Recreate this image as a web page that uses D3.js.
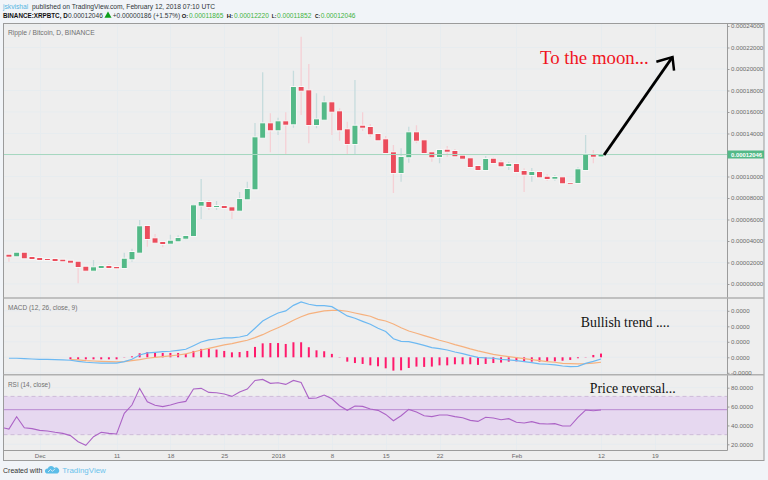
<!DOCTYPE html>
<html><head><meta charset="utf-8">
<script src="https://cdn.jsdelivr.net/npm/d3@7"></script>
<style>
html,body{margin:0;padding:0;background:#f1f4f8;overflow:hidden}
svg{display:block}
text{font-family:"Liberation Sans",Arial,sans-serif}
</style></head><body>
<svg id="c" width="768" height="480"></svg>
<script>
// ---- data ----
const firstDay = Date.UTC(2017,10,27);
const opens  = [2725,2577,2912,2512,2419,2326,2326,2260,2167,2074,1609,1237,1488,1674,1581,1488,2298,2912,5395,4251,3907,3749,3972,4214,4465,7284,7628,7163,7256,7135,6818,7879,8809,13609,14948,14297,15134,14855,18325,18018,14790,15283,16902,16065,14390,13023,14725,14604,13953,13460,12251,10325,11786,14111,13367,12251,11814,12493,12372,11935,11693,10976,10604,11656,11321,10976,11162,10511,10139,10418,9981,9795,9925,9395,9395,10604,12065,11865];
const closes = [2540,2912,2391,2326,2233,2233,2140,2112,1981,1581,1237,1553,1674,1488,1460,2353,2977,5367,4186,3842,3721,4028,4279,4465,7321,7628,7163,7256,7070,6818,7907,8837,13646,14948,14297,15134,14818,18325,17981,14790,15320,16902,16027,14297,13023,14725,14539,13925,13367,12186,10325,11814,14111,13330,12186,11786,12465,12307,11879,11656,10883,10604,11628,11255,10948,11162,10418,10167,10418,9925,9767,9953,9367,9330,10670,12065,11842,12046];
const highs  = [2790,2977,2950,2560,2450,2350,2360,2290,2200,2100,1640,2232,1795,1833,1610,2912,3284,5953,5420,4651,3940,4586,4530,4500,7442,9767,7814,7721,7300,7170,8558,9516,14976,19693,15878,15470,15971,19841,23004,20464,17739,17516,16940,16344,15097,18976,15971,14883,14000,13767,12930,12623,14632,14763,13400,12290,12500,12837,12558,11970,11730,11010,11907,11786,11535,11377,11200,10762,10790,10450,10204,10139,9960,9488,10856,13860,12465,12220];
const lows   = [2074,2512,2350,2280,2200,2210,2110,2090,1950,65,1200,1200,1460,1460,1430,1460,2074,2880,3470,3800,3414,3720,3940,4093,4430,6046,6883,6883,7030,6046,6780,7840,8770,13570,12251,13860,12065,14539,15720,13088,14483,15250,13860,13330,12000,12000,14232,13702,13330,12150,8465,9516,11283,13088,12150,11377,11228,11842,11840,11620,10762,10570,10570,11220,10910,10604,10380,8558,9516,9890,9609,9609,9330,9300,9360,10539,11228,11852];
const lastClose = 12046;
const macdLine = [-0.6,-0.6,-0.8,-1.1,-1.3,-1.4,-1.5,-1.7,-1.9,-2.6,-3.2,-3.5,-3.7,-3.7,-3.7,-2.8,-1.3,1.5,2.8,3.2,3.7,3.9,4.5,5.2,7.5,9.9,11.2,11.8,12.5,12.5,13.1,14.2,18.7,23.4,26.2,28.6,29.9,33.5,35.7,34.2,33.3,33.3,32.7,29.7,26.7,25.2,23.2,21.3,18.7,16.6,12,10.3,10.1,9,7.7,6.2,5.6,4.7,3.4,2.4,1.1,0,-0.4,-0.6,-1.3,-1.7,-2.2,-2.8,-3.4,-4.3,-4.5,-4.9,-5.6,-6,-5.8,-3.9,-2.6,-1.1];
const signalOffset = 8;
const signalLine = [-1.5,-1.7,-2.2,-2.4,-2.6,-2.8,-3,-2.8,-2.2,-1.5,-0.6,0,0.4,0.9,1.5,2.2,3.4,4.7,5.8,6.9,8,8.8,9.9,11,12.7,14.6,17,19.1,21.3,23.9,26.2,28,29,29.9,30.3,30.3,29.7,28.6,27.5,26.5,24.5,23.4,21.5,19.1,17,15.5,14,12.5,11,9.7,8.2,6.9,5.4,4.1,3,1.9,1.1,0.4,-0.2,-0.9,-1.5,-2.2,-2.8,-3.2,-3.9,-4.1,-4.3,-4.1,-3.7,-3.2];
const histValues = [-1.3,-1.3,-1.3,-1.3,-1.3,-1.3,-1.3,-0.2,0.6,2.6,3.4,3,2.8,2.8,2.8,2.2,4.1,5.4,5.6,5,4.1,3.2,3.4,4.1,6.7,9,9.2,9.2,8.6,9.7,9.7,6.5,4.5,3.9,2.2,0.2,-2.8,-3.7,-4.3,-5.2,-5.8,-7.1,-8.6,-8.4,-6.9,-6,-6.2,-6,-5.2,-5.2,-4.5,-4.5,-4.5,-4.9,-4.3,-3.7,-3.4,-2.8,-2.6,-2.8,-2.8,-2.8,-2.6,-2.6,-2.2,-1.7,-0.6,0.2,1.5,2.4];
const rsiOffset = -1;
const rsiValues = [38,36.2,49.3,37.6,36.6,34.8,34.1,32.7,31.6,29.2,22.8,18.9,28.1,32.7,31.6,30.9,52.8,61.6,79.3,65.1,61.3,59.9,61.6,64.1,65.5,78.6,79.3,75,74.7,73.3,70.8,75.4,78.6,87.7,88.8,84.6,85.3,83.5,87.7,85.6,68.7,69,72.2,68.3,60.9,56,60.6,60.2,57.4,56,51.7,45,50.3,57,54.2,50.3,49.3,51,51,49.3,48.2,45.4,44.3,48.6,47.9,46.1,47.2,43.3,42.6,44,41.9,41.5,41.9,39.4,39.4,48.6,56.3,55.6,56.3];
const timeTicks = [[2017,11,1,"Dec"],[2017,11,11,"11"],[2017,11,18,"18"],[2017,11,25,"25"],[2018,0,1,"2018"],[2018,0,8,"8"],[2018,0,15,"15"],[2018,0,22,"22"],[2018,1,1,"Feb"],[2018,1,12,"12"],[2018,1,19,"19"]];
const priceTicks = [0,2000,4000,6000,8000,10000,14000,16000,18000,20000,22000,24000];
const macdTicks = [-10,0,10,20,30];
const rsiTicks = [20,40,60,80];
const arrowDays = [77.4,86.3], arrowPrices = [12000,21116];
const arrowHeadDays = [84.2,86.3,86.5], arrowHeadPrices = [20679,21116,19841];

// ---- layout ----
const L=3.5,R=764,AX=727.5,TOP=23.5,BOT=460.5,TAXIS=450.5;
const DAY=86400000;
const dayDate=i=>new Date(firstDay+i*DAY);
const x=d3.scaleUtc().domain([dayDate(0),dayDate(77)]).range([8.94,601]);
const y=d3.scaleLinear().domain([0,24000]).range([284,26]);
const ym=d3.scaleLinear().domain([-10,30]).range([372.8,310.8]);
const yr=d3.scaleLinear().domain([20,80]).range([444.3,387.7]);
const GREEN="#53b987",RED="#eb4d5c";
const svg=d3.select("#c");
const defs=svg.append("defs");
const clip=(id,a,b)=>defs.append("clipPath").attr("id",id).append("rect").attr("x",L).attr("y",a).attr("width",AX-L).attr("height",b-a);
clip("cp",TOP,298);clip("cm",298,374.5);clip("cr",374.5,TAXIS);

svg.append("rect").attr("x",L).attr("y",TOP).attr("width",R-L).attr("height",BOT-TOP).attr("fill","#eeeeee");

// grid
const gridC="#e7ecef";
const tickDates=timeTicks.map(t=>new Date(Date.UTC(t[0],t[1],t[2])));
svg.append("g").selectAll("line").data(tickDates).join("line")
 .attr("x1",d=>Math.round(x(d))+.5).attr("x2",d=>Math.round(x(d))+.5).attr("y1",TOP).attr("y2",TAXIS).attr("stroke",gridC);
const hgrid=(sc,vals)=>svg.append("g").selectAll("line").data(vals).join("line")
 .attr("x1",L).attr("x2",AX).attr("y1",d=>sc(d)).attr("y2",d=>sc(d)).attr("stroke",gridC);
hgrid(y,d3.range(0,26000,2000));hgrid(ym,macdTicks);hgrid(yr,rsiTicks);

// candles
const days=d3.range(opens.length);
const gc=svg.append("g").attr("clip-path","url(#cp)");
gc.append("g").selectAll("line").data(days).join("line")
 .attr("x1",i=>x(dayDate(i))).attr("x2",i=>x(dayDate(i)))
 .attr("y1",i=>y(highs[i])).attr("y2",i=>y(lows[i]))
 .attr("stroke",i=>closes[i]>=opens[i]?"#c6dcdd":"#f5d0d5").attr("stroke-width",1.3);
gc.append("g").selectAll("rect").data(days).join("rect")
 .attr("x",i=>x(dayDate(i))-3).attr("width",6)
 .attr("y",i=>y(Math.max(opens[i],closes[i]))-.5)
 .attr("height",i=>Math.max(1.5,Math.abs(y(opens[i])-y(closes[i]))+1))
 .attr("fill",i=>closes[i]>=opens[i]?GREEN:RED).attr("stroke","#f8f8f8").attr("stroke-width",1);
// last price line
svg.append("line").attr("x1",L).attr("x2",AX).attr("y1",y(lastClose)).attr("y2",y(lastClose)).attr("stroke","#a6d7bf").attr("stroke-width",1);

// MACD
const gm=svg.append("g").attr("clip-path","url(#cm)");
gm.append("g").selectAll("rect").data(histValues).join("rect")
 .attr("x",(d,i)=>x(dayDate(i+signalOffset))-1).attr("width",2)
 .attr("y",d=>Math.min(ym(d),ym(0))).attr("height",d=>Math.max(.6,Math.abs(ym(d)-ym(0))))
 .attr("fill","#ff1a6c").attr("opacity",d=>Math.abs(d)<0.3?.45:1);
const lineOf=(sc,off)=>d3.line().x((d,i)=>x(dayDate(i+off))).y(d=>sc(d));
gm.append("path").attr("d",lineOf(ym,signalOffset)(signalLine)).attr("fill","none").attr("stroke","#f6b17e").attr("stroke-width",1.2);
gm.append("path").attr("d",lineOf(ym,0)(macdLine)).attr("fill","none").attr("stroke","#6db9f2").attr("stroke-width",1.2);

// RSI
const gr=svg.append("g").attr("clip-path","url(#cr)");
gr.append("rect").attr("x",L).attr("width",AX-L).attr("y",yr(70.8)).attr("height",yr(30.2)-yr(70.8)).attr("fill","#e6d8f0");
[70.8,30.2].forEach(v=>gr.append("line").attr("x1",L).attr("x2",AX).attr("y1",yr(v)).attr("y2",yr(v)).attr("stroke","#cdbad8").attr("stroke-dasharray","4 3"));
gr.append("line").attr("x1",L).attr("x2",AX).attr("y1",yr(56.7)).attr("y2",yr(56.7)).attr("stroke","#b98ad2").attr("stroke-width",1);
gr.append("path").attr("d",lineOf(yr,rsiOffset)(rsiValues)).attr("fill","none").attr("stroke","#ac64c6").attr("stroke-width",1.1);

// frames
svg.append("rect").attr("x",L).attr("y",TOP).attr("width",R-L).attr("height",BOT-TOP).attr("fill","none").attr("stroke","#9b9b9b").attr("stroke-width",1);
svg.append("line").attr("x1",AX).attr("x2",AX).attr("y1",TOP).attr("y2",TAXIS).attr("stroke","#9b9b9b");
svg.append("line").attr("x1",L).attr("x2",AX).attr("y1",TAXIS).attr("y2",TAXIS).attr("stroke","#9b9b9b");
[298,374.7].forEach(v=>svg.append("line").attr("x1",L).attr("x2",R).attr("y1",v).attr("y2",v).attr("stroke","#b0b0b0").attr("stroke-width",1.6));

// axes
const styleAxis=g=>{g.select(".domain").remove();g.selectAll("line").attr("stroke","#9b9b9b");
 g.selectAll("text").attr("fill","#6a6a6a").style("font-size","6.1px").style("font-family",'"Liberation Sans",Arial,sans-serif');};
svg.append("g").attr("transform",`translate(${AX},0)`).call(d3.axisRight(y).tickValues(priceTicks).tickSize(2).tickPadding(1.5).tickFormat(d=>(d/1e8).toFixed(8))).call(styleAxis);
svg.append("g").attr("transform",`translate(${AX},0)`).call(d3.axisRight(ym).tickValues(macdTicks).tickSize(2).tickPadding(1.5).tickFormat(d=>(d*1e-6).toFixed(4))).call(styleAxis);
svg.append("g").attr("transform",`translate(${AX},0)`).call(d3.axisRight(yr).tickValues(rsiTicks).tickSize(2).tickPadding(1.5).tickFormat(d=>d.toFixed(4))).call(styleAxis);
const labels=new Map(tickDates.map((d,i)=>[+d,timeTicks[i][3]]));
svg.append("g").attr("transform",`translate(0,${TAXIS})`).call(d3.axisBottom(x).tickValues(tickDates).tickSize(0).tickPadding(3).tickFormat(d=>labels.get(+d))).call(styleAxis);

// last price tag
svg.append("rect").attr("x",AX).attr("width",R-AX).attr("y",y(lastClose)-4).attr("height",8).attr("fill",GREEN);
svg.append("text").attr("x",AX+3.5).attr("y",y(lastClose)+2.2).attr("fill","#fff").attr("font-size",5.9).attr("font-weight","bold").text((lastClose/1e8).toFixed(8));

// headers
const T=(s,xp,yp,size,fill,extra={})=>{const t=svg.append("text").attr("x",xp).attr("y",yp).attr("font-size",size).attr("fill",fill).text(s);
 Object.entries(extra).forEach(([k,v])=>t.attr(k,v));return t;};
T("jskvishal",3,8.6,6.7,"#56b4e2");
T("published on TradingView.com, February 12, 2018 07:10 UTC",32,8.6,6.7,"#2f3439");
T("BINANCE:XRPBTC, D",3,18,6.3,"#111",{"font-weight":"bold"});
T("0.00012046",68,18,6.6,"#2f3439");
svg.append("path").attr("d",d3.symbol(d3.symbolTriangle,22)()).attr("transform","translate(108,15.6)").attr("fill","#0fa01c");
T("+0.00000186 (+1.57%)",112.7,18,6.6,"#2f3439");
[["O:",181.7,"0.00011865",189,5.8],["H:",226.7,"0.00012220",234,6],["L:",271.7,"0.00011852",277,5],["C:",315,"0.00012046",320.7,4.9]].forEach(a=>{
 T(a[0],a[1],18,a[4],"#111",{"font-weight":"bold"});T(a[2],a[3],18,6.6,"#3fb33f");});
T("Ripple / Bitcoin, D, BINANCE",8,34.5,6.7,"#707070");
T("MACD (12, 26, close, 9)",8,309.5,6.5,"#707070");
T("RSI (14, close)",8,386.5,6.4,"#707070");

// annotations
const ser='"Liberation Serif","Times New Roman",serif';
T("To the moon...",540,64,18.8,"#f0141e").style("font-family",ser);
T("Bullish trend ....",580.8,327.4,13.8,"#111").style("font-family",ser);
T("Price reversal...",589.8,393.3,13.8,"#111").style("font-family",ser);
const pt=(a,b)=>[x(dayDate(a)),y(b)];
const ln=d3.line();
svg.append("path").attr("d",ln(arrowDays.map((d,i)=>pt(d,arrowPrices[i])))).attr("stroke","#000").attr("stroke-width",2.9).attr("fill","none");
svg.append("path").attr("d",ln(arrowHeadDays.map((d,i)=>pt(d,arrowHeadPrices[i])))).attr("stroke","#000").attr("stroke-width",2.5).attr("fill","none");

// footer
T("Created with",3,472.8,7,"#333");
svg.append("path").attr("d","M46.5 473.5 a2.6 2.6 0 0 1 1.2-5 a3.6 3.6 0 0 1 6.6-.6 a3 3 0 0 1 3.2 5.6 z").attr("fill","#5cbde8");
svg.append("path").attr("d","M48 472 l2.5-2.5 l2 1.8 l2.5-2.5").attr("fill","none").attr("stroke","#f1f4f8").attr("stroke-width",.8);
T("TradingView",62.3,473,7.9,"#6cc3ec");
</script></body></html>
